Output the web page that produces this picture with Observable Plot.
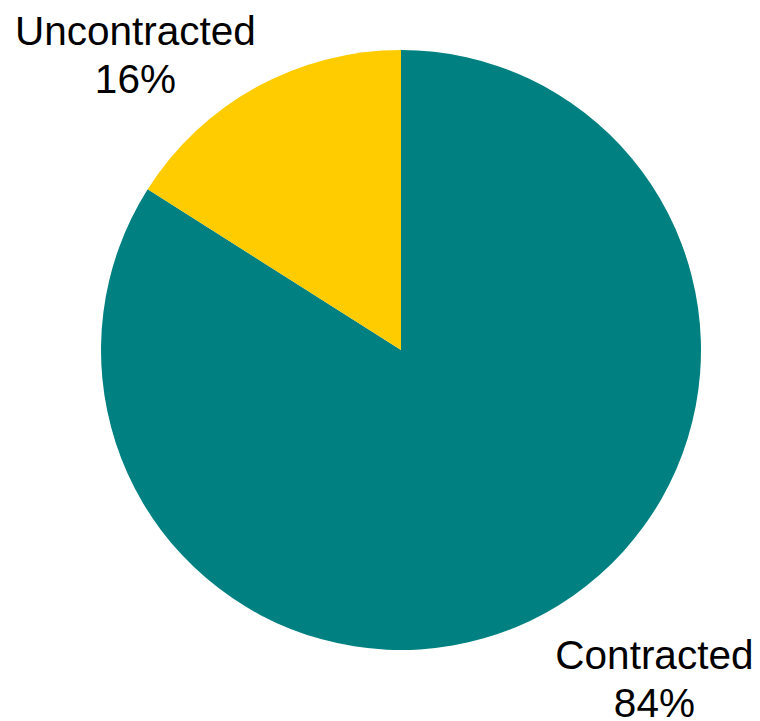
<!DOCTYPE html>
<html>
<head>
<meta charset="utf-8">
<script src="https://cdn.jsdelivr.net/npm/d3@7"></script>
<script src="https://cdn.jsdelivr.net/npm/@observablehq/plot@0.6"></script>
<style>
  html, body { margin: 0; padding: 0; background: #ffffff; }
  #chart svg { display: block; }
</style>
</head>
<body>
<div id="chart"></div>
<script>
const categories = ["Contracted", "Uncontracted"];
const values = [84, 16];
const colors = ["#008080", "#FFCC00"];
// label anchor positions in the chart's unit-circle coordinates
const labelX = [0.843, -0.887];
const labelY = [-1.09, 0.99];

const data = categories.map((c, i) => ({
  category: c,
  value: values[i],
  color: colors[i],
  label: `${c}\n${values[i]}%`,
  lx: labelX[i],
  ly: labelY[i]
}));

const arcs = d3.pie().sort(null).value(d => d.value)(data);

function pieMark(index, scales, channels, dimensions, context) {
  const cx = scales.x(0), cy = scales.y(0);
  const r = scales.x(1) - scales.x(0);
  const arc = d3.arc().innerRadius(0).outerRadius(r);
  const g = d3.create("svg:g").attr("transform", `translate(${cx},${cy})`);
  g.selectAll("path")
    .data(arcs)
    .join("path")
    .attr("d", arc)
    .attr("fill", d => d.data.color)
    .attr("stroke", "none");
  return g.node();
}

const chart = Plot.plot({
  width: 760,
  height: 721,
  margin: 0,
  x: { domain: [-1, 1], range: [101, 701], axis: null },
  y: { domain: [-1, 1], range: [650, 50], axis: null },
  style: { fontFamily: "'Liberation Sans', Arial, sans-serif", background: "#ffffff" },
  marks: [
    pieMark,
    Plot.text(data, {
      x: "lx",
      y: "ly",
      text: "label",
      fontSize: 40.5,
      lineHeight: 1.18,
      textAnchor: "middle",
      lineAnchor: "middle",
      fill: "#000000"
    })
  ]
});

document.getElementById("chart").appendChild(chart);
</script>
</body>
</html>
